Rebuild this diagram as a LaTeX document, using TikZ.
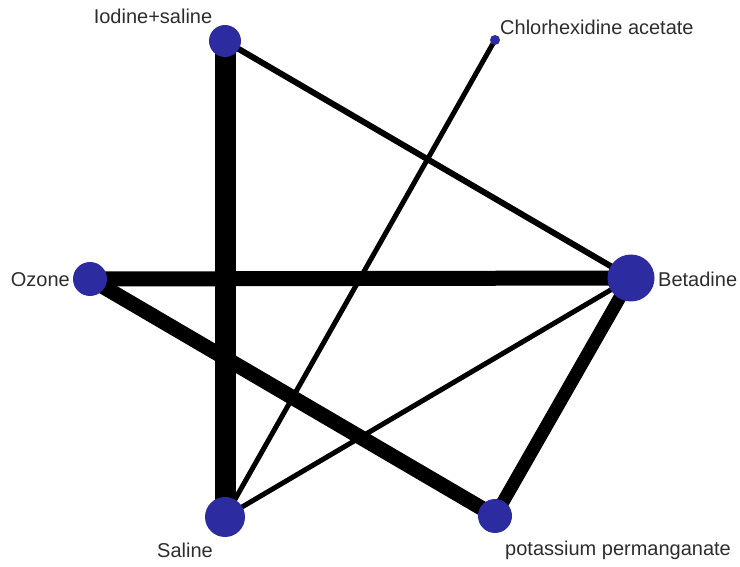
\documentclass[tikz,border=0pt]{standalone}
\usepackage{fontspec}
\setmainfont{Liberation Sans}
\usetikzlibrary{backgrounds}
\definecolor{nodeblue}{RGB}{44,44,160}
\definecolor{labelgray}{RGB}{45,45,45}
\begin{document}
\begin{tikzpicture}[x=1pt,y=-1pt,
  dot/.style={circle,fill=nodeblue,inner sep=0pt,minimum size=#1},
  lbl/.style={text=labelgray,font=\fontsize{20}{24}\selectfont,inner sep=0pt},
  edge/.style={draw=black,line width=#1}]
\useasboundingbox (0,0) rectangle (740,567);
\node[dot=32pt] (iod) at (225,41) {};
\node[dot=10pt] (chx) at (495,40) {};
\node[dot=34pt] (ozo) at (90,279) {};
\node[dot=47pt] (bet) at (631,278) {};
\node[dot=40pt] (sal) at (225,517) {};
\node[dot=34pt] (kmn) at (495,516) {};
\node[lbl] (liod) at (153,16) {Iodine+saline};
\node[lbl,anchor=west] (lchx) at (500,27) {Chlorhexidine acetate};
\node[lbl,anchor=east] (lozo) at (70,280) {Ozone};
\node[lbl,anchor=west] (lbet) at (658,279) {Betadine};
\node[lbl] (lsal) at (185,550) {Saline};
\node[lbl,anchor=west] (lkmn) at (505,550) {potassium permanganate};
\begin{scope}[on background layer]
\draw[edge=21pt] (iod.center) -- (sal.center);
\draw[edge=15pt] (ozo.center) -- (bet.center);
\draw[edge=15pt] (ozo.center) -- (kmn.center);
\draw[edge=13pt] (bet.center) -- (kmn.center);
\draw[edge=6pt] (iod.center) -- (bet.center);
\draw[edge=5pt] (chx.center) -- (sal.center);
\draw[edge=5pt] (bet.center) -- (sal.center);
\end{scope}
\end{tikzpicture}
\end{document}
